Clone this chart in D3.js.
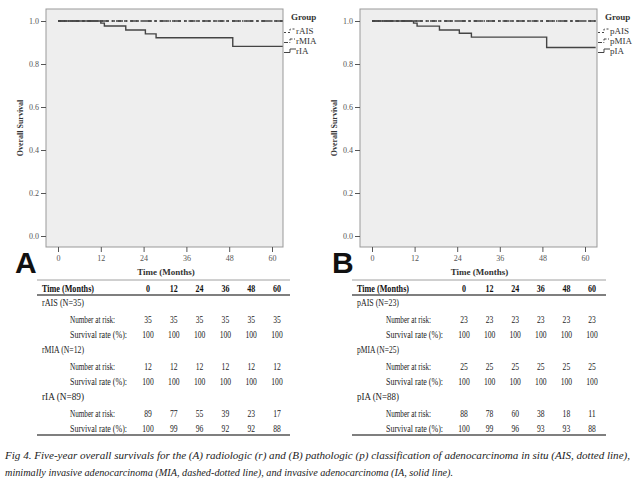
<!DOCTYPE html>
<html><head><meta charset="utf-8">
<script src="https://cdn.jsdelivr.net/npm/d3@7"></script>
<style>body{margin:0;background:#fff}svg{display:block}text{font-family:"Liberation Serif","Times New Roman",serif}</style>
</head><body>
<svg id="c" width="640" height="487"></svg>
<script>
// ---- data ----
const months = [0, 12, 24, 36, 48, 60];
const yTicks = [0, 0.2, 0.4, 0.6, 0.8, 1.0];

const groupsA = ["rAIS", "rMIA", "rIA"];
const groupsB = ["pAIS", "pMIA", "pIA"];
const nA = [35, 12, 89];
const nB = [23, 25, 88];

const riskA = [[35,35,35,35,35,35],[12,12,12,12,12,12],[89,77,55,39,23,17]];
const rateA = [[100,100,100,100,100,100],[100,100,100,100,100,100],[100,99,96,92,92,88]];
const riskB = [[23,23,23,23,23,23],[25,25,25,25,25,25],[88,78,60,38,18,11]];
const rateB = [[100,100,100,100,100,100],[100,100,100,100,100,100],[100,99,96,93,93,88]];

// Kaplan-Meier step points (time in months, survival)
const kmTimesAIS = [0, 63];
const kmSurvAIS  = [1, 1];
const kmTimesMIA = [0, 63];
const kmSurvMIA  = [1, 1];
const kmTimesIA_A = [0, 12, 13, 19, 24.5, 27.5, 49, 63];
const kmSurvIA_A  = [1, 0.99, 0.977, 0.958, 0.94, 0.922, 0.882, 0.882];
const kmTimesIA_B = [0, 11.7, 12.7, 19, 24.6, 28, 49.2, 63];
const kmSurvIA_B  = [1, 0.99, 0.976, 0.958, 0.943, 0.925, 0.877, 0.877];

const captionLines = [
  "Fig 4.  Five-year overall survivals for the (A) radiologic (r) and (B) pathologic (p) classification of adenocarcinoma in situ (AIS, dotted line),",
  "minimally invasive adenocarcinoma (MIA, dashed-dotted line), and invasive adenocarcinoma (IA, solid line)."
];

const svg = d3.select("#c");
const ink = "#444";
const txt = "#222";

function num(sel, v, x, y) {
  const s = String(v);
  sel.append("text").attr("x", x - s.length * 1.9).attr("y", y).attr("font-size", 10).attr("fill", txt)
    .attr("textLength", s.length * 3.8).attr("lengthAdjust", "spacingAndGlyphs").text(s);
}

function panel(o) {
  const g = svg.append("g");
  const x = d3.scaleLinear().domain([0, 60]).range([o.x0, o.x60]);
  const y = d3.scaleLinear().domain([0, 1]).range([236, 21]);
  const top = 9, bottom = 247;
  g.append("rect").attr("x", o.pl).attr("y", top).attr("width", o.pr - o.pl).attr("height", bottom - top)
    .attr("fill", "#eeeeee").attr("stroke", "#999").attr("stroke-width", 1);

  const ya = g.append("g").attr("transform", `translate(${o.pl},0)`)
    .call(d3.axisLeft(y).tickValues(yTicks).tickFormat(d3.format(".1f")).tickSize(5).tickPadding(2));
  ya.select(".domain").remove();
  ya.selectAll("line").attr("stroke", "#555");
  ya.selectAll("text").attr("font-size", 8).attr("fill", "#555").style("font-family", "Liberation Serif");

  const xa = g.append("g").attr("transform", `translate(0,${bottom})`)
    .call(d3.axisBottom(x).tickValues(months).tickSize(5).tickPadding(3));
  xa.select(".domain").remove();
  xa.selectAll("line").attr("stroke", "#555");
  xa.selectAll("text").attr("font-size", 8).attr("fill", "#555").style("font-family", "Liberation Serif");

  g.append("text").attr("x", (o.x0 + o.x60) / 2 + 1).attr("y", 275).attr("text-anchor", "middle")
    .attr("font-size", 9).attr("font-weight", "bold").attr("fill", "#333").text("Time (Months)");
  g.append("text").attr("transform", `translate(${o.pl - 23},128) rotate(-90)`).attr("text-anchor", "middle")
    .attr("font-size", 8).attr("font-weight", "bold").attr("fill", "#333").text("Overall Survival");

  const line = d3.line().curve(d3.curveStepAfter).x(d => x(d[0])).y(d => y(d[1]));
  const series = [
    {t: kmTimesAIS, s: kmSurvAIS, dash: "3,3"},
    {t: kmTimesMIA, s: kmSurvMIA, dash: "7,3,1.5,3"},
    {t: o.iaT, s: o.iaS, dash: null}
  ];
  series.forEach(sr => {
    g.append("path").datum(sr.t.map((t, i) => [t, sr.s[i]]))
      .attr("d", line).attr("fill", "none").attr("stroke", ink).attr("stroke-width", 1.4)
      .attr("stroke-dasharray", sr.dash);
  });

  // legend
  g.append("text").attr("x", o.lgx).attr("y", 20).attr("font-size", 9).attr("font-weight", "bold").attr("fill", "#333").text("Group");
  const ly = [31, 41, 51];
  o.groups.forEach((nm, i) => {
    const sx = o.pr + 1, yy = ly[i];
    g.append("path").attr("d", `M${sx},${yy + 1.5}H${sx + 6}V${yy - 2}H${sx + 12}`)
      .attr("fill", "none").attr("stroke", ink).attr("stroke-width", 1)
      .attr("stroke-dasharray", series[i].dash ? (i === 0 ? "2,2" : "4,1.5,1,1.5") : null);
    g.append("text").attr("x", sx + 12).attr("y", yy + 3).attr("font-size", 9).attr("fill", "#333").text(nm);
  });

  // panel letter
  g.append("text").attr("x", o.lx).attr("y", 273).style("font-family", "'Liberation Sans', Arial, sans-serif")
    .attr("font-size", 30).attr("font-weight", "bold").attr("fill", "#111").text(o.letter);

  // table
  const tx = d3.scaleLinear().domain([0, 60]).range([o.c0, o.c60]);
  const t = g.append("g");
  t.append("line").attr("x1", o.tl).attr("x2", o.tr).attr("y1", 280).attr("y2", 280).attr("stroke", "#888").attr("stroke-width", 0.8);
  t.append("line").attr("x1", o.tl).attr("x2", o.tr).attr("y1", 295).attr("y2", 295).attr("stroke", "#555").attr("stroke-width", 1.4);
  t.append("line").attr("x1", o.tl).attr("x2", o.tr).attr("y1", 435).attr("y2", 435).attr("stroke", "#555").attr("stroke-width", 1.4);
  t.append("text").attr("x", o.tl + 5).attr("y", 292).attr("font-size", 10).attr("font-weight", "bold")
    .attr("fill", "#111").attr("textLength", 52).attr("lengthAdjust", "spacingAndGlyphs").text("Time (Months)");
  months.forEach(m => {
    const s = String(m);
    t.append("text").attr("x", tx(m) - s.length * 2).attr("y", 292)
      .attr("font-size", 10).attr("font-weight", "bold").attr("fill", "#111")
      .attr("textLength", s.length * 4).attr("lengthAdjust", "spacingAndGlyphs").text(s);
  });
  const gy = [306, 353, 400];
  o.groups.forEach((nm, i) => {
    const y0 = gy[i];
    t.append("text").attr("x", o.tl + 5).attr("y", y0).attr("font-size", 10).attr("fill", txt)
      .attr("textLength", 42).attr("lengthAdjust", "spacingAndGlyphs").text(`${nm} (N=${o.n[i]})`);
    t.append("text").attr("x", o.rlx).attr("y", y0 + 17).attr("font-size", 10).attr("fill", txt)
      .attr("textLength", 45).attr("lengthAdjust", "spacingAndGlyphs").text("Number at risk:");
    t.append("text").attr("x", o.rlx).attr("y", y0 + 32).attr("font-size", 10).attr("fill", txt)
      .attr("textLength", 57).attr("lengthAdjust", "spacingAndGlyphs").text("Survival rate (%):");
    months.forEach((m, j) => {
      num(t, o.risk[i][j], tx(m), y0 + 17);
      num(t, o.rate[i][j], tx(m), y0 + 32);
    });
  });
}

panel({letter: "A", pl: 46, pr: 283, x0: 58, x60: 272, iaT: kmTimesIA_A, iaS: kmSurvIA_A, groups: groupsA, n: nA,
  risk: riskA, rate: rateA, lgx: 291, lx: 15, tl: 37, tr: 290, c0: 148, c60: 277, rlx: 70});
panel({letter: "B", pl: 360, pr: 597, x0: 372, x60: 585, iaT: kmTimesIA_B, iaS: kmSurvIA_B, groups: groupsB, n: nB,
  risk: riskB, rate: rateB, lgx: 605, lx: 332, tl: 352, tr: 606, c0: 464, c60: 592, rlx: 386});

// caption
svg.append("text").attr("x", 5).attr("y", 459).attr("font-size", 11).attr("font-style", "italic").attr("fill", "#222")
  .attr("textLength", 625).attr("lengthAdjust", "spacingAndGlyphs").text(captionLines[0]);
svg.append("text").attr("x", 5).attr("y", 476).attr("font-size", 11).attr("font-style", "italic").attr("fill", "#222")
  .attr("textLength", 448).attr("lengthAdjust", "spacingAndGlyphs").text(captionLines[1]);
</script>
</body></html>
